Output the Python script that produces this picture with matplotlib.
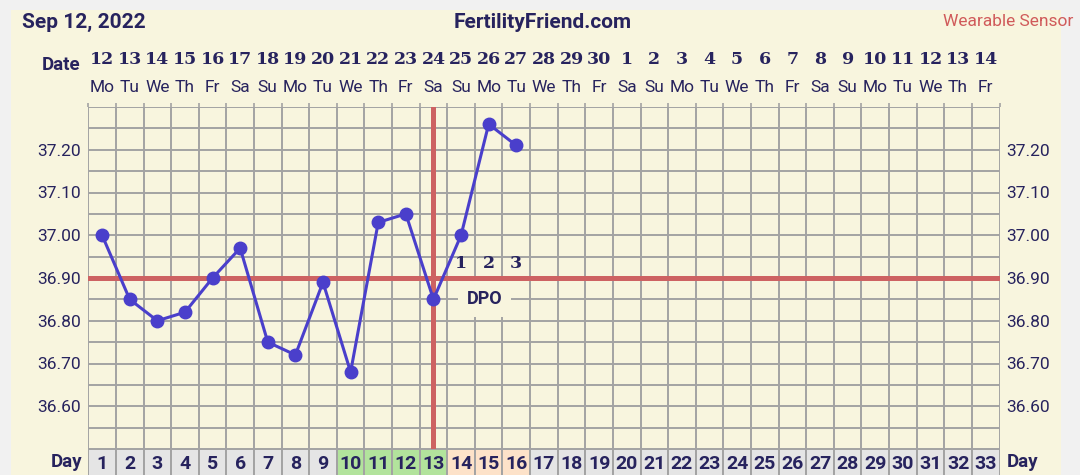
import numpy as np
import matplotlib
matplotlib.use('Agg')
import matplotlib.pyplot as plt
from matplotlib.patches import Rectangle
from matplotlib.transforms import blended_transform_factory

# Datos de la gráfica
cycle_days = list(range(1, 34))
date_nums = [12, 13, 14, 15, 16, 17, 18, 19, 20, 21, 22, 23, 24, 25, 26, 27, 28, 29, 30,
             1, 2, 3, 4, 5, 6, 7, 8, 9, 10, 11, 12, 13, 14]
weekdays = ['Mo', 'Tu', 'We', 'Th', 'Fr', 'Sa', 'Su'] * 4 + ['Mo', 'Tu', 'We', 'Th', 'Fr']
temp_days = list(range(1, 17))
temps = [37.00, 36.85, 36.80, 36.82, 36.90, 36.97, 36.75, 36.72, 36.89, 36.68,
         37.03, 37.05, 36.85, 37.00, 37.26, 37.21]
coverline = 36.90
ovulation_day = 13
fertile_days = [10, 11, 12, 13]
dpo_days = [14, 15, 16]
y_labels = [36.60, 36.70, 36.80, 36.90, 37.00, 37.10, 37.20]

# Colores
NAVY = '#27235e'
GRID = '#a3a3a3'
RED = '#cd6262'
BLUE = '#4a3fcb'
CREAM = '#f8f5de'

W, H = 1080, 475
fig = plt.figure(figsize=(W / 100, H / 100), dpi=100)
fig.patch.set_facecolor('#f1f1f1')
fig.patches.append(Rectangle((11 / W, 0), (1061 - 11) / W, (H - 10) / H,
                             transform=fig.transFigure, facecolor=CREAM,
                             edgecolor='none', zorder=-5))

x0, x1 = 88.3, 999.5
ytop, ybot = 107, 449
ax = fig.add_axes([x0 / W, (H - ybot) / H, (x1 - x0) / W, (ybot - ytop) / H])
ax.set_facecolor(CREAM)
ax.set_xlim(0.5, 33.5)
ax.set_ylim(36.50, 37.30)

for xv in np.arange(0.5, 34, 1):
    ax.axvline(xv, color=GRID, lw=1.4, zorder=1)
for yv in np.arange(36.50, 37.301, 0.05):
    ax.axhline(yv, color=GRID, lw=1.4, zorder=1)
for s in ax.spines.values():
    s.set_visible(False)

ax.set_xticks(np.arange(0.5, 34, 1))
ax.tick_params(axis='x', bottom=False, labelbottom=False, top=True,
               direction='out', length=3, width=1.2, color=GRID)
ax.set_yticks(y_labels)
ax.set_yticklabels([f'{v:.2f}' for v in y_labels])
ax.tick_params(axis='y', left=False, right=False, labelleft=True, labelright=True,
               labelsize=12.5, labelcolor=NAVY, pad=1.5)
for lbl in ax.get_yticklabels():
    lbl.set_family('Roboto')

# Línea de cobertura y ovulación
ax.axhline(coverline, color=RED, lw=3.6, zorder=3)
ax.axvline(ovulation_day, color=RED, lw=3.6, zorder=3)

# Temperaturas
ax.plot(temp_days, temps, '-o', color=BLUE, lw=2.2, markersize=9, zorder=4)

# DPO
for i, d in enumerate(dpo_days):
    ax.text(d, 36.935, str(i + 1), ha='center', va='center', fontsize=12.5,
            fontweight='bold', family='DejaVu Serif', color=NAVY, zorder=5)
ax.text(14.85, 36.851, 'DPO', ha='center', va='center', fontsize=13,
        fontweight='bold', family='Roboto', color=NAVY, zorder=5,
        bbox=dict(boxstyle='square,pad=0.5', facecolor=CREAM, edgecolor='none'))

# Fila de días
axd = fig.add_axes([x0 / W, -1 / H, (x1 - x0) / W, (H - ybot + 1) / H])
axd.set_xlim(0.5, 33.5)
axd.set_ylim(0, 1)
axd.axis('off')
for d in cycle_days:
    if d in fertile_days:
        c = '#b2e39c'
    elif d in dpo_days:
        c = '#fde2c9'
    else:
        c = '#e5e5e5'
    axd.bar(d, 1, width=1, bottom=0, color=c, edgecolor=GRID, lw=1.4)
    axd.text(d, 0.45, str(d), ha='center', va='center', fontsize=14,
             fontweight='bold', family='Roboto', color=NAVY)

# Encabezado de fechas
tr = blended_transform_factory(ax.transData, fig.transFigure)
for d, n, w in zip(cycle_days, date_nums, weekdays):
    ax.text(d, (H - 59) / H, str(n), transform=tr, ha='center', va='center',
            fontsize=12.5, fontweight='bold', family='DejaVu Serif', color=NAVY)
    ax.text(d, (H - 87) / H, w, transform=tr, ha='center', va='center',
            fontsize=12.5, family='Roboto', color=NAVY)

fig.text(80 / W, (H - 65) / H, 'Date', ha='right', va='center', fontsize=13.5,
         fontweight='bold', family='Roboto', color=NAVY)
fig.text(82 / W, (H - 462) / H, 'Day', ha='right', va='center', fontsize=13.5,
         fontweight='bold', family='Roboto', color=NAVY)
fig.text(1007 / W, (H - 462) / H, 'Day', ha='left', va='center', fontsize=13.5,
         fontweight='bold', family='Roboto', color=NAVY)

fig.text(22 / W, (H - 22) / H, 'Sep 12, 2022', ha='left', va='center', fontsize=15,
         fontweight='bold', family='Roboto', color=NAVY)
fig.text(543 / W, (H - 22) / H, 'FertilityFriend.com', ha='center', va='center',
         fontsize=15, fontweight='bold', family='Roboto', color=NAVY)
fig.text(1073 / W, (H - 22) / H, 'Wearable Sensor', ha='right', va='center',
         fontsize=12.5, family='Roboto', color='#d05a5a')

fig.savefig('out.png', dpi=100, facecolor=fig.get_facecolor())
